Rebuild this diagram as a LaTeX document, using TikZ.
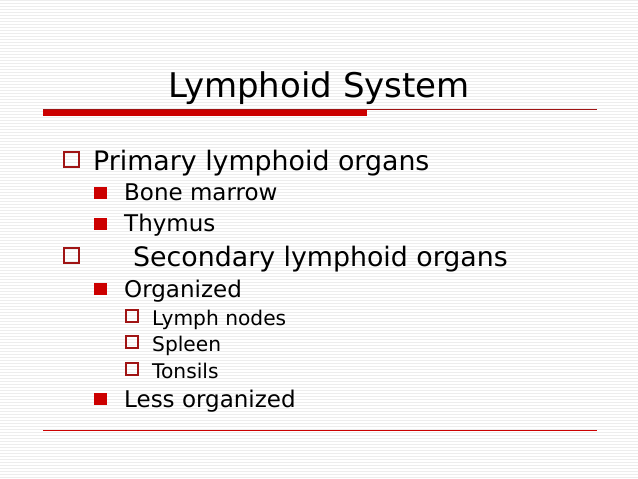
\documentclass[tikz,border=0pt]{standalone}
\usepackage{fontspec}
\setmainfont{DejaVu Sans}
\definecolor{slidered}{RGB}{204,0,0}
\definecolor{darkred}{RGB}{160,20,20}
\tikzset{
  lvlone/.style={anchor=base west,inner sep=0pt,font=\fontsize{26.8}{30}\selectfont},
  lvltwo/.style={anchor=base west,inner sep=0pt,font=\fontsize{23}{27}\selectfont},
  lvlthree/.style={anchor=base west,inner sep=0pt,font=\fontsize{20.2}{24}\selectfont},
  hollowbox/.style={draw=darkred,line width=2pt},
  fullbox/.style={fill=slidered}
}
\begin{document}
\begin{tikzpicture}[x=1pt,y=-1pt]
  \useasboundingbox (0,0) rectangle (638,479);
  \fill[white] (0,0) rectangle (638,479);
  % faint stripes of the slide background
  \foreach \yy in {0,3,...,479}
    \draw[gray!14,line width=0.6pt] (0,\yy) -- (638,\yy);

% title and rules
  \node[anchor=base,inner sep=0pt,font=\fontsize{34}{38}\selectfont] (title) at (319,97) {Lymphoid System};
  \draw[darkred,line width=1pt] (43,109.5) -- (597,109.5);
  \fill[slidered] (43,110) rectangle (367,116);
  \draw[slidered,line width=1pt] (43,430) -- (597,430);

% level one
  \draw[hollowbox] (64,152) rectangle (79,167);
  \node[lvlone] (prim) at (93,170) {Primary lymphoid organs};
  \draw[hollowbox] (64,248) rectangle (79,263);
  \node[lvlone] (sec) at (133,266) {Secondary lymphoid organs};

% level two
  \fill[fullbox] (94,187) rectangle (107,199);
  \node[lvltwo] (bone) at (124,200) {Bone marrow};
  \fill[fullbox] (94,218) rectangle (107,230);
  \node[lvltwo] (thym) at (124,231) {Thymus};
  \fill[fullbox] (94,283) rectangle (107,295);
  \node[lvltwo] (org) at (124,297) {Organized};
  \fill[fullbox] (94,393) rectangle (107,405);
  \node[lvltwo] (less) at (124,407) {Less organized};

% level three
  \foreach \yy/\txt [count=\i] in {325/Lymph nodes,351/Spleen,378/Tonsils} {
    \draw[hollowbox,line width=1.5pt] (126,\yy-15) rectangle (138,\yy-3);
    \node[lvlthree] (sub\i) at (152,\yy) {\txt};
  }
\end{tikzpicture}
\end{document}
